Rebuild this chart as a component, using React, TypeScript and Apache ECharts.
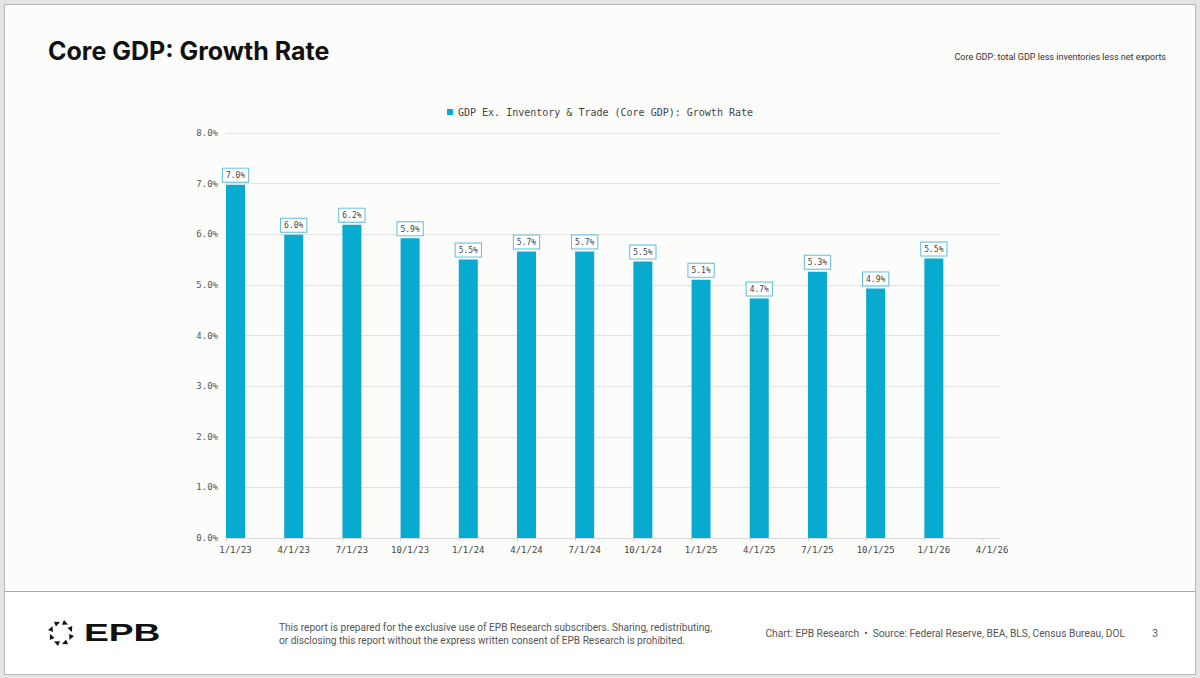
import React, { useEffect, useRef } from 'react';
import * as echarts from 'echarts';

const categories = ['1/1/23', '4/1/23', '7/1/23', '10/1/23', '1/1/24', '4/1/24', '7/1/24', '10/1/24', '1/1/25', '4/1/25', '7/1/25', '10/1/25', '1/1/26', '4/1/26'];
const growthRate = [6.98, 5.99, 6.19, 5.92, 5.5, 5.66, 5.66, 5.46, 5.1, 4.73, 5.26, 4.93, 5.52];
const yTicks = [0, 1, 2, 3, 4, 5, 6, 7, 8];
const seriesName = 'GDP Ex. Inventory & Trade (Core GDP): Growth Rate';
const titleText = 'Core GDP: Growth Rate';
const noteText = 'Core GDP: total GDP less inventories less net exports';
const disclaimer1 = 'This report is prepared for the exclusive use of EPB Research subscribers. Sharing, redistributing,';
const disclaimer2 = 'or disclosing this report without the express written consent of EPB Research is prohibited.';
const sourceText = 'Chart: EPB Research  \u2022  Source: Federal Reserve, BEA, BLS, Census Bureau, DOL';
const pageNumber = '3';

const MONO = '"DejaVu Sans Mono", "Liberation Mono", monospace';
const SANS = 'Roboto, "Liberation Sans", sans-serif';
const BAR = '#09aad0';

function logoTriangles() {
  const cx = 61, cy = 633, R = 10.5;
  const els: any[] = [];
  for (let k = 0; k < 8; k++) {
    const a = (k * 45 + 22.5) * Math.PI / 180;
    const px = cx + R * Math.cos(a), py = cy + R * Math.sin(a);
    const tx = -Math.sin(a), ty = Math.cos(a);
    const nx = Math.cos(a), ny = Math.sin(a);
    els.push({
      type: 'polygon',
      shape: {
        points: [
          [px + tx * 3.2, py + ty * 3.2],
          [px - tx * 2.2 + nx * 2.6, py - ty * 2.2 + ny * 2.6],
          [px - tx * 2.2 - nx * 2.6, py - ty * 2.2 - ny * 2.6],
        ],
      },
      style: { fill: '#111' },
    });
  }
  return els;
}

export default function App() {
  const ref = useRef<HTMLDivElement>(null);
  useEffect(() => {
    if (!ref.current) return;
    const chart = echarts.init(ref.current, undefined, { renderer: 'svg' });
    const idx = categories.map((_, i) => i);
    chart.setOption({
      animation: false,
      backgroundColor: '#e4e4e4',
      graphic: [
        { type: 'rect', z: -10, shape: { x: 4.5, y: 4.5, width: 1191, height: 670 }, style: { fill: '#fcfcfa', stroke: '#b8b8b8', lineWidth: 1 } },
        { type: 'rect', z: -9, shape: { x: 5, y: 592, width: 1190, height: 82 }, style: { fill: '#ffffff' } },
        { type: 'line', z: -8, shape: { x1: 5, y1: 591.5, x2: 1195, y2: 591.5 }, style: { stroke: '#a8a8a8', lineWidth: 1 } },
        { type: 'text', x: 48, y: 51, style: { text: titleText, font: 'bold 25px Inter, "Liberation Sans", sans-serif', fill: '#111', verticalAlign: 'middle' } },
        { type: 'text', x: 1166, y: 57, style: { text: noteText, font: '9px ' + SANS, fill: '#333', align: 'right', verticalAlign: 'middle' } },
        ...logoTriangles(),
        { type: 'text', x: 84, y: 633, scaleX: 1.55, style: { text: 'EPB', font: 'bold 24px "Liberation Sans", Arial, sans-serif', fill: '#111', verticalAlign: 'middle' } },
        { type: 'text', x: 279, y: 627, style: { text: disclaimer1, font: '10.1px ' + SANS, fill: '#555', verticalAlign: 'middle' } },
        { type: 'text', x: 279, y: 640, style: { text: disclaimer2, font: '10.1px ' + SANS, fill: '#555', verticalAlign: 'middle' } },
        { type: 'text', x: 1125, y: 633, style: { text: sourceText, font: '10.25px ' + SANS, fill: '#555', align: 'right', verticalAlign: 'middle' } },
        { type: 'text', x: 1155, y: 633, style: { text: pageNumber, font: '10.25px ' + SANS, fill: '#555', align: 'center', verticalAlign: 'middle' } },
      ],
      legend: {
        data: [seriesName],
        top: 102,
        left: 'center',
        icon: 'rect',
        itemWidth: 6,
        itemHeight: 6,
        textStyle: { fontFamily: MONO, fontSize: 10, color: '#444' },
      },
      grid: { left: 226, right: 200, top: 133, bottom: 140, containLabel: false },
      xAxis: {
        type: 'value',
        min: 0,
        max: 13.3,
        interval: 1,
        splitLine: { show: false },
        axisLine: { lineStyle: { color: '#d8d8d8' } },
        axisTick: { show: true, customValues: idx, length: 3, lineStyle: { color: '#cfcfcf' } },
        axisLabel: {
          customValues: idx,
          formatter: (v: number) => categories[Math.round(v)] ?? '',
          fontFamily: MONO,
          fontSize: 9,
          color: '#444',
          margin: 7,
          padding: [0, 0, 0, 19],
        },
      },
      yAxis: {
        type: 'value',
        min: yTicks[0],
        max: yTicks[yTicks.length - 1],
        interval: 1,
        axisLine: { show: false },
        axisTick: { show: false },
        splitLine: { lineStyle: { color: '#e2e2e2' } },
        axisLabel: {
          formatter: (v: number) => v.toFixed(1) + '%',
          fontFamily: MONO,
          fontSize: 9,
          color: '#555',
          margin: 8,
        },
      },
      series: [
        {
          name: '_offset',
          type: 'bar',
          barWidth: 19,
          barGap: '0%',
          silent: true,
          itemStyle: { color: 'rgba(0,0,0,0)' },
          data: growthRate.map((v, i) => [i, 0]),
        },
        {
          name: seriesName,
          type: 'bar',
          barWidth: 19,
          barGap: '0%',
          itemStyle: { color: BAR },
          label: {
            show: true,
            position: 'top',
            distance: 3,
            formatter: (p: any) => p.value[1].toFixed(1) + '%',
            fontFamily: MONO,
            fontSize: 8,
            color: '#444',
            backgroundColor: '#ffffff',
            borderColor: '#5bbfdc',
            borderWidth: 1,
            padding: [3, 3, 2, 3],
          },
          data: growthRate.map((v, i) => [i, v]),
        },
      ],
    });
    return () => chart.dispose();
  }, []);
  return <div ref={ref} style={{ position: 'fixed', left: 0, top: 0, width: 1200, height: 678 }} />;
}
